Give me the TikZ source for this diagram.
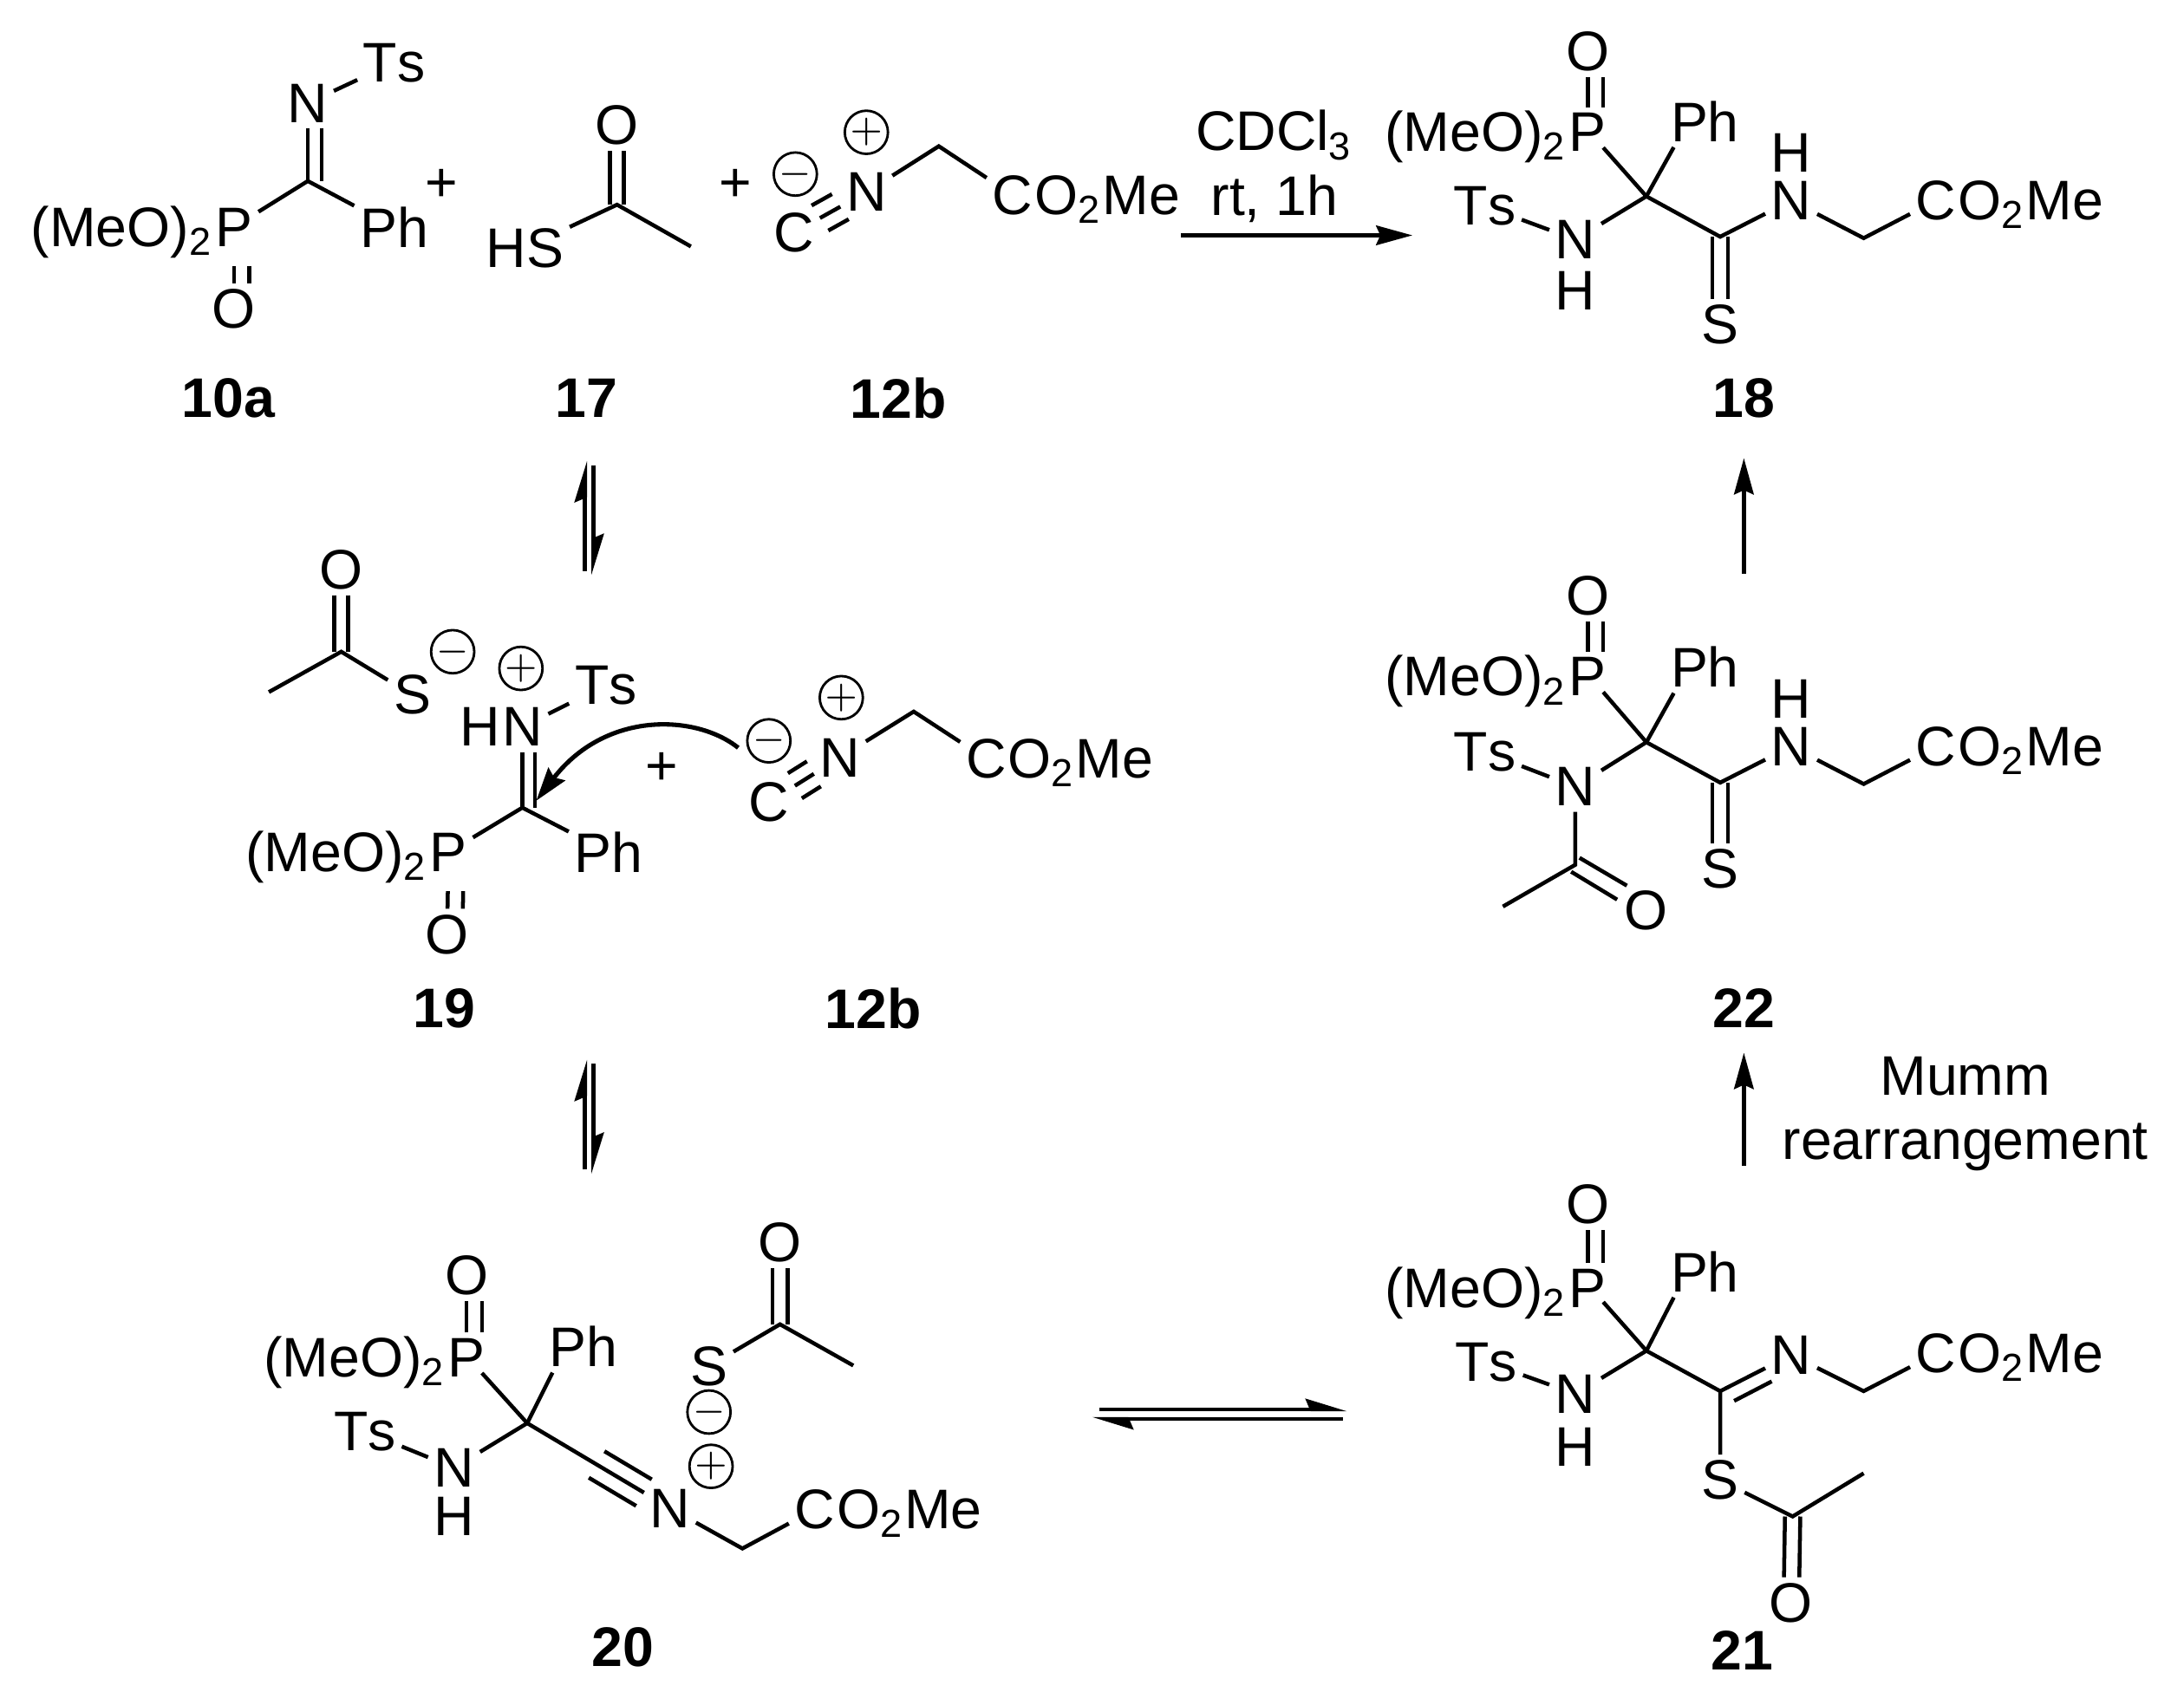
\documentclass[tikz,border=0pt]{standalone}
\usepackage{fontspec}
\setmainfont[Kerning=Off]{Liberation Sans}
\usetikzlibrary{arrows.meta}
\newcommand{\chemsize}{\fontsize{11.4}{13}\selectfont}
\tikzset{
  atom/.style={inner sep=1pt},
  headl/.style={inner sep=0pt,anchor=base east,xshift=1pt},
  tailr/.style={inner sep=0pt,anchor=base west,xshift=-1pt},
  charge/.style={draw,circle,line width=.5pt,inner sep=0pt,minimum size=.31cm,font=\footnotesize},
  cpd/.style={font=\chemsize\bfseries},
  bond/.style={line width=.8pt},
  react/.style={line width=.8pt,-{Stealth[length=.26cm,width=.14cm,inset=.03cm]}},
  equil/.style={line width=.8pt,-{Stealth[left,length=.25cm,width=.15cm,inset=.03cm]}}
}
\begin{document}
\begin{tikzpicture}[font=\chemsize]
\useasboundingbox (0,0) rectangle (15.68,-12.24);

% 10a
\node[atom] (ts1) at (2.83,-0.45) {Ts};
\node[atom] (n1) at (2.21,-0.74) {N};
\coordinate (c1) at (2.21,-1.30);
\node[atom] (p1) at (1.68,-1.63) {P};
\node[headl] (m1) at (p1.base west) {(MeO)\textsubscript{2}};
\node[atom] (ph1) at (2.83,-1.63) {Ph};
\node[atom] (o1) at (1.68,-2.22) {O};
\draw[bond] (n1) -- (ts1);
\draw[bond] (n1) -- (c1);
\draw[bond,transform canvas={xshift=.10cm}] (n1) -- (c1);
\draw[bond] (p1) -- (c1) -- (ph1);
\draw[bond,shorten <=.1cm] (p1) -- (o1);
\draw[bond,shorten <=.1cm,transform canvas={xshift=.11cm}] (p1) -- (o1);
\node[cpd] (l1) at (1.64,-2.86) {10a};
\node (plus1) at (3.17,-1.33) {+};

% 17
\node[atom] (o2) at (4.43,-0.90) {O};
\coordinate (c2) at (4.43,-1.47);
\node[atom] (s2) at (3.77,-1.78) {HS};
\coordinate (me2) at (4.96,-1.77);
\draw[bond,transform canvas={xshift=-.05cm}] (o2) -- (c2);
\draw[bond,transform canvas={xshift=.05cm}] (o2) -- (c2);
\draw[bond] (s2) -- (c2) -- (me2);
\node[cpd] (l2) at (4.21,-2.86) {17};
\node (plus2) at (5.28,-1.33) {+};

% 12b
\node[atom] (k3) at (5.70,-1.67) {C};
\node[atom] (n3) at (6.22,-1.38) {N};
\node[charge] (neg3) at (5.71,-1.25) {$-$};
\node[charge] (pos3) at (6.22,-0.95) {$+$};
\coordinate (c3) at (6.74,-1.05);
\node[atom] (e3) at (7.27,-1.40) {C};
\node[tailr] (f3) at (e3.base east) {O\textsubscript{2}Me};
\draw[bond] (k3) -- (n3);
\draw[bond,transform canvas={xshift=-.06cm,yshift=.09cm}] (k3) -- (n3);
\draw[bond,transform canvas={xshift=.06cm,yshift=-.09cm}] (k3) -- (n3);
\draw[bond] (n3) -- (c3) -- (e3);
\node[cpd] (l3) at (6.45,-2.86) {12b};

% reaction arrow
\coordinate (a1) at (8.48,-1.69);
\coordinate (a2) at (10.14,-1.69);
\draw[react] (a1) -- (a2);
\node (cdcl) at (9.15,-0.97) {CDCl\textsubscript{3}};
\node (rt) at (9.15,-1.43) {rt, 1h};

% 18
\node[atom] (o4) at (11.40,-0.37) {O};
\node[atom] (p4) at (11.40,-0.95) {P};
\node[headl] (m4) at (p4.base west) {(MeO)\textsubscript{2}};
\node[atom] (ph4) at (12.24,-0.87) {Ph};
\coordinate (c4) at (11.82,-1.41);
\node[atom] (ts4) at (10.66,-1.48) {Ts};
\node[atom] (n4) at (11.31,-1.72) {N};
\node[atom] (h4) at (11.31,-2.09) {H};
\coordinate (d4) at (12.35,-1.70);
\node[atom] (nb4) at (12.86,-1.44) {N};
\node[atom] (hb4) at (12.86,-1.10) {H};
\coordinate (g4) at (13.38,-1.71);
\node[atom] (e4) at (13.90,-1.44) {C};
\node[tailr] (f4) at (e4.base east) {O\textsubscript{2}Me};
\node[atom] (s4) at (12.35,-2.33) {S};
\draw[bond] (p4) -- (o4);
\draw[bond,transform canvas={xshift=.11cm}] (p4) -- (o4);
\draw[bond] ([xshift=.11cm,yshift=-.11cm]p4.center) -- (c4);
\draw[bond] (ph4.220) -- (c4);
\draw[bond] (ts4) -- (n4) -- (c4) -- (d4) -- (nb4) -- (g4) -- (e4);
\draw[bond,transform canvas={xshift=-.055cm}] (d4) -- (s4);
\draw[bond,transform canvas={xshift=.055cm}] (d4) -- (s4);
\node[cpd] (l4) at (12.52,-2.86) {18};

% 22 to 18
\coordinate (a3) at (12.52,-4.12);
\coordinate (a4) at (12.52,-3.29);
\draw[react] (a3) -- (a4);

% 22
\node[atom] (o5) at (11.40,-4.28) {O};
\node[atom] (p5) at (11.40,-4.86) {P};
\node[headl] (m5) at (p5.base west) {(MeO)\textsubscript{2}};
\node[atom] (ph5) at (12.24,-4.79) {Ph};
\coordinate (c5) at (11.82,-5.33);
\node[atom] (ts5) at (10.66,-5.40) {Ts};
\node[atom] (n5) at (11.31,-5.65) {N};
\coordinate (b5) at (11.31,-6.21);
\coordinate (me5) at (10.79,-6.51);
\node[atom] (ob5) at (11.82,-6.54) {O};
\coordinate (b5a) at (11.34,-6.16);
\coordinate (b5b) at (11.68,-6.36);
\coordinate (b5c) at (11.28,-6.26);
\coordinate (b5d) at (11.61,-6.46);
\coordinate (d5) at (12.35,-5.62);
\node[atom] (nb5) at (12.86,-5.36) {N};
\node[atom] (hb5) at (12.86,-5.02) {H};
\coordinate (g5) at (13.38,-5.63);
\node[atom] (e5) at (13.90,-5.36) {C};
\node[tailr] (f5) at (e5.base east) {O\textsubscript{2}Me};
\node[atom] (s5) at (12.35,-6.24) {S};
\draw[bond] (p5) -- (o5);
\draw[bond,transform canvas={xshift=.11cm}] (p5) -- (o5);
\draw[bond] ([xshift=.11cm,yshift=-.11cm]p5.center) -- (c5);
\draw[bond] (ph5.220) -- (c5);
\draw[bond] (ts5) -- (n5) -- (c5) -- (d5) -- (nb5) -- (g5) -- (e5);
\draw[bond] (n5) -- (b5) -- (me5);
\draw[bond] (b5a) -- (b5b);
\draw[bond] (b5c) -- (b5d);
\draw[bond,transform canvas={xshift=-.055cm}] (d5) -- (s5);
\draw[bond,transform canvas={xshift=.055cm}] (d5) -- (s5);
\node[cpd] (l5) at (12.52,-7.24) {22};

% 21 to 22
\coordinate (a5) at (12.52,-8.37);
\coordinate (a6) at (12.52,-7.56);
\draw[react] (a5) -- (a6);
\node (mumm) at (14.11,-7.73) {Mumm};
\node (rearr) at (14.11,-8.24) {rearrangement};

% 21
\node[atom] (o6) at (11.40,-8.65) {O};
\node[atom] (p6) at (11.40,-9.25) {P};
\node[headl] (m6) at (p6.base west) {(MeO)\textsubscript{2}};
\node[atom] (ph6) at (12.24,-9.13) {Ph};
\coordinate (c6) at (11.82,-9.70);
\node[atom] (ts6) at (10.67,-9.78) {Ts};
\node[atom] (n6) at (11.31,-10.01) {N};
\node[atom] (h6) at (11.31,-10.39) {H};
\coordinate (d6) at (12.35,-9.99);
\coordinate (d6a) at (12.45,-10.06);
\coordinate (d6b) at (12.72,-9.92);
\node[atom] (nb6) at (12.86,-9.73) {N};
\coordinate (g6) at (13.38,-9.99);
\node[atom] (e6) at (13.90,-9.72) {C};
\node[tailr] (f6) at (e6.base east) {O\textsubscript{2}Me};
\node[atom] (s6) at (12.35,-10.63) {S};
\coordinate (t6) at (12.87,-10.89);
\coordinate (me6) at (13.38,-10.58);
\node[atom] (ob6) at (12.86,-11.51) {O};
\draw[bond] (p6) -- (o6);
\draw[bond,transform canvas={xshift=.11cm}] (p6) -- (o6);
\draw[bond] ([xshift=.11cm,yshift=-.10cm]p6.center) -- (c6);
\draw[bond] (ph6.220) -- (c6);
\draw[bond] (ts6) -- (n6) -- (c6) -- (d6) -- (nb6) -- (g6) -- (e6);
\draw[bond] (d6a) -- (d6b);
\draw[bond] (d6) -- (s6) -- (t6) -- (me6);
\draw[bond,transform canvas={xshift=-.055cm}] (t6) -- (ob6);
\draw[bond,transform canvas={xshift=.055cm}] (t6) -- (ob6);
\node[cpd] (l6) at (12.51,-11.85) {21};

% 20 and 21
\coordinate (a7) at (7.89,-10.12);
\coordinate (a8) at (9.67,-10.12);
\coordinate (a9) at (9.64,-10.19);
\coordinate (a10) at (7.84,-10.19);
\draw[equil] (a7) -- (a8);
\draw[equil] (a9) -- (a10);

% 20
\node[atom] (o7) at (3.35,-9.16) {O};
\node[atom] (p7) at (3.35,-9.75) {P};
\node[headl] (m7) at (p7.base west) {(MeO)\textsubscript{2}};
\node[atom] (ph7) at (4.19,-9.67) {Ph};
\coordinate (c7) at (3.785,-10.22);
\node[atom] (ts7) at (2.62,-10.28) {Ts};
\node[atom] (n7) at (3.26,-10.54) {N};
\node[atom] (h7) at (3.26,-10.89) {H};
\node[atom] (nb7) at (4.81,-10.83) {N};
\node[charge] (pos7) at (5.105,-10.53) {$+$};
\node[charge] (neg7) at (5.09,-10.14) {$-$};
\node[atom] (s7) at (5.09,-9.81) {S};
\coordinate (t7) at (5.60,-9.51);
\coordinate (me7) at (6.126,-9.806);
\node[atom] (ob7) at (5.60,-8.92) {O};
\coordinate (g7) at (5.33,-11.12);
\node[atom] (e7) at (5.85,-10.84) {C};
\node[tailr] (f7) at (e7.base east) {O\textsubscript{2}Me};
\draw[bond] (p7) -- (o7);
\draw[bond,transform canvas={xshift=.11cm}] (p7) -- (o7);
\draw[bond] ([xshift=.11cm,yshift=-.11cm]p7.center) -- (c7);
\draw[bond] (ph7.220) -- (c7);
\draw[bond] (ts7) -- (n7) -- (c7) -- (nb7) -- (g7) -- (e7);
\draw[bond,shorten <=.58cm,transform canvas={xshift=.056cm,yshift=.095cm}] (c7) -- (nb7);
\draw[bond,shorten <=.58cm,transform canvas={xshift=-.056cm,yshift=-.095cm}] (c7) -- (nb7);
\draw[bond] (s7) -- (t7) -- (me7);
\draw[bond,transform canvas={xshift=-.055cm}] (t7) -- (ob7);
\draw[bond,transform canvas={xshift=.055cm}] (t7) -- (ob7);
\node[cpd] (l7) at (4.47,-11.83) {20};

% 17 to 19 and 19 to 20
\coordinate (a11) at (4.20,-4.10);
\coordinate (a12) at (4.20,-3.31);
\coordinate (a13) at (4.26,-3.34);
\coordinate (a14) at (4.26,-4.13);
\draw[equil] (a11) -- (a12);
\draw[equil] (a13) -- (a14);
\coordinate (a15) at (4.20,-8.40);
\coordinate (a16) at (4.20,-7.61);
\coordinate (a17) at (4.26,-7.64);
\coordinate (a18) at (4.26,-8.43);
\draw[equil] (a15) -- (a16);
\draw[equil] (a17) -- (a18);

% 19
\node[atom] (o8) at (2.45,-4.09) {O};
\coordinate (t8) at (2.45,-4.68);
\coordinate (me8) at (1.93,-4.97);
\node[atom] (s8) at (2.96,-4.99) {S};
\node[charge] (neg8) at (3.25,-4.68) {$-$};
\node[charge] (pos8) at (3.74,-4.80) {$+$};
\node[atom] (n8) at (3.75,-5.22) {N};
\node[headl] (h8) at (n8.base west) {H};
\node[atom] (ts8) at (4.35,-4.92) {Ts};
\coordinate (c8) at (3.75,-5.80);
\node[atom] (p8) at (3.22,-6.12) {P};
\node[headl] (m8) at (p8.base west) {(MeO)\textsubscript{2}};
\node[atom] (ph8) at (4.37,-6.12) {Ph};
\node[atom] (ob8) at (3.21,-6.71) {O};
\draw[bond,transform canvas={xshift=-.05cm}] (o8) -- (t8);
\draw[bond,transform canvas={xshift=.05cm}] (o8) -- (t8);
\draw[bond] (me8) -- (t8) -- (s8);
\draw[bond] (n8) -- (ts8);
\draw[bond] (n8) -- (c8);
\draw[bond,transform canvas={xshift=.09cm}] (n8) -- (c8);
\draw[bond] (p8) -- (c8) -- (ph8);
\draw[bond,shorten <=.1cm] (p8) -- (ob8);
\draw[bond,shorten <=.1cm,transform canvas={xshift=.11cm}] (p8) -- (ob8);
\node[cpd] (l8) at (3.19,-7.24) {19};
\node (plus8) at (4.75,-5.52) {+};

% 12b again
\node[atom] (k9) at (5.52,-5.76) {C};
\node[atom] (n9) at (6.03,-5.44) {N};
\node[charge] (neg9) at (5.52,-5.32) {$-$};
\node[charge] (pos9) at (6.04,-5.01) {$+$};
\coordinate (c9) at (6.56,-5.11);
\node[atom] (e9) at (7.08,-5.45) {C};
\node[tailr] (f9) at (e9.base east) {O\textsubscript{2}Me};
\draw[bond] (k9) -- (n9);
\draw[bond,transform canvas={xshift=-.05cm,yshift=.09cm}] (k9) -- (n9);
\draw[bond,transform canvas={xshift=.05cm,yshift=-.09cm}] (k9) -- (n9);
\draw[bond] (n9) -- (c9) -- (e9);
\node[cpd] (l9) at (6.27,-7.24) {12b};

% attack of the isocyanide
\coordinate (q1) at (5.30,-5.37);
\coordinate (q2) at (3.85,-5.75);
\draw[line width=.9pt,-{Stealth[length=.24cm,width=.15cm,inset=.03cm]}] (q1) .. controls (5.00,-5.13) and (4.35,-5.10) .. (q2);
\end{tikzpicture}
\end{document}
